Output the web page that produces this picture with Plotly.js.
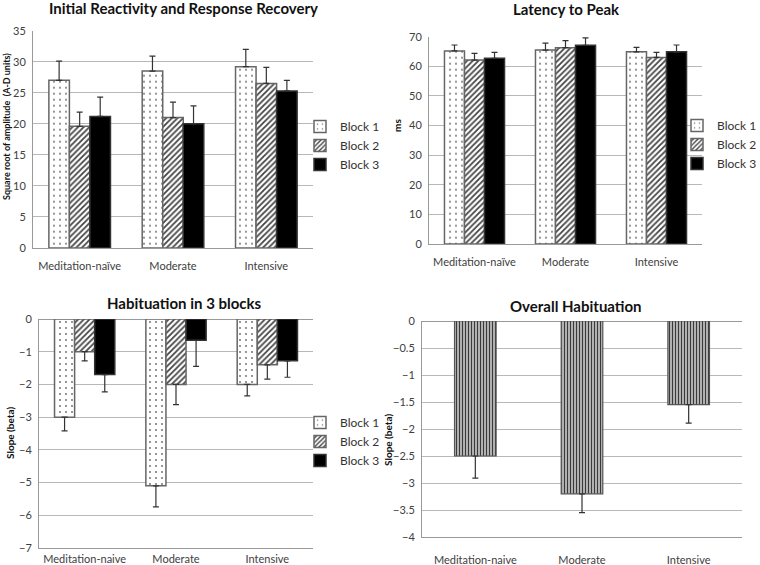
<!DOCTYPE html>
<html><head><meta charset="utf-8">
<script src="https://cdn.plot.ly/plotly-3.0.1.min.js"></script>
<style>body{margin:0;padding:0;background:#fff}#chart{width:760px;height:565px}</style>
</head><body><div id="chart"></div>
<script>
// ---- data ----
const groupsA = ["Meditation-naïve", "Moderate", "Intensive"];
const groupsB = ["Meditation-naive", "Moderate", "Intensive"];
const seriesNames = ["Block 1", "Block 2", "Block 3"];

// Initial Reactivity and Response Recovery
const react1 = [27.0, 28.5, 29.2], reactErr1 = [3.1, 2.4, 2.8];
const react2 = [19.6, 21.0, 26.5], reactErr2 = [2.3, 2.5, 2.6];
const react3 = [21.2, 20.0, 25.3], reactErr3 = [3.1, 2.9, 1.7];

// Latency to Peak (ms)
const lat1 = [65.2, 65.5, 64.9], latErr1 = [2.0, 2.3, 1.5];
const lat2 = [62.1, 66.3, 63.0], latErr2 = [2.3, 2.4, 1.7];
const lat3 = [62.7, 67.1, 64.9], latErr3 = [2.0, 2.5, 2.3];

// Habituation in 3 blocks (slope)
const hab1 = [-3.0, -5.1, -2.0], habErr1 = [0.42, 0.64, 0.35];
const hab2 = [-1.0, -2.0, -1.4], habErr2 = [0.28, 0.62, 0.44];
const hab3 = [-1.7, -0.65, -1.28], habErr3 = [0.53, 0.80, 0.50];

// Overall Habituation (slope)
const overall = [-2.5, -3.2, -1.55], overallErr = [0.41, 0.35, 0.34];

// ---- styles ----
const FONT = "Lato, 'Open Sans', sans-serif";
const styles = [
  {color: "#ffffff", line: {color: "#666", width: 1.5}, pattern: {shape: ".", fgcolor: "#666", bgcolor: "#ffffff", size: 6, solidity: 0.07}},
  {color: "#ffffff", line: {color: "#666", width: 1.5}, pattern: {shape: "/", fgcolor: "#444", bgcolor: "#ffffff", size: 4, solidity: 0.45}},
  {color: "#000000", line: {color: "#333", width: 1.5}}
];
const zeros = [0, 0, 0];

function bar(x, y, err, i, xa, ya, legend, showlegend, negative) {
  return {
    type: "bar", x: x, y: y, name: seriesNames[i], xaxis: xa, yaxis: ya,
    legend: legend, showlegend: showlegend,
    marker: styles[i],
    error_y: {type: "data", symmetric: false,
      array: negative ? zeros : err, arrayminus: negative ? err : zeros,
      color: "#333", thickness: 1.2, width: 3},
    hoverinfo: "none"
  };
}

const traces = [
  bar(groupsA, react1, reactErr1, 0, "x", "y", "legend", true, false),
  bar(groupsA, react2, reactErr2, 1, "x", "y", "legend", true, false),
  bar(groupsA, react3, reactErr3, 2, "x", "y", "legend", true, false),
  bar(groupsA, lat1, latErr1, 0, "x2", "y2", "legend2", true, false),
  bar(groupsA, lat2, latErr2, 1, "x2", "y2", "legend2", true, false),
  bar(groupsA, lat3, latErr3, 2, "x2", "y2", "legend2", true, false),
  bar(groupsB, hab1, habErr1, 0, "x3", "y3", "legend3", true, true),
  bar(groupsB, hab2, habErr2, 1, "x3", "y3", "legend3", true, true),
  bar(groupsB, hab3, habErr3, 2, "x3", "y3", "legend3", true, true),
  {type: "bar", x: groupsB, y: overall, name: "Overall", xaxis: "x4", yaxis: "y4",
   showlegend: false, width: 0.39,
   marker: {color: "#ffffff", line: {color: "#555", width: 1.2},
     pattern: {shape: "|", fgcolor: "#3a3a3a", bgcolor: "#ffffff", size: 3, solidity: 0.6}},
   error_y: {type: "data", symmetric: false, array: zeros, arrayminus: overallErr,
     color: "#333", thickness: 1.2, width: 3},
   hoverinfo: "none"}
];

const W = 760, H = 565;
const px = (a, b) => [a / W, b / W];
const py = (top, bottom) => [1 - bottom / H, 1 - top / H];

const tickFont = {family: FONT, size: 11, color: "#404040"};
function xax(domain, anchor, standoff) {
  return {domain: domain, anchor: anchor, showline: true, linecolor: "#999", linewidth: 1,
    showgrid: false, ticks: "outside", ticklen: standoff, tickcolor: "rgba(0,0,0,0)",
    tickfont: tickFont, fixedrange: true};
}
function yax(domain, anchor, range, dtick) {
  return {domain: domain, anchor: anchor, range: range, dtick: dtick, tick0: 0,
    showline: true, linecolor: "#999", linewidth: 1,
    showgrid: true, gridcolor: "#b8b8b8", gridwidth: 1,
    zeroline: true, zerolinecolor: "#999", zerolinewidth: 1,
    ticks: "outside", ticklen: 4, tickcolor: "rgba(0,0,0,0)",
    tickfont: tickFont, fixedrange: true};
}

const legendBase = {font: {family: FONT, size: 12, color: "#333"}, bgcolor: "rgba(0,0,0,0)",
  xanchor: "left", yanchor: "top", tracegroupgap: 0, itemwidth: 30, traceorder: "normal"};

function title(text, x, y) {
  return {text: "<b>" + text + "</b>", x: x / W, y: 1 - y / H, xref: "paper", yref: "paper",
    xanchor: "center", yanchor: "middle", showarrow: false,
    font: {family: FONT, size: 15, color: "#111"}};
}
function ytitle(text, x, y, size) {
  return {text: "<b>" + text + "</b>", x: x / W, y: 1 - y / H, xref: "paper", yref: "paper",
    xanchor: "center", yanchor: "middle", showarrow: false, textangle: -90,
    font: {family: FONT, size: size, color: "#111"}};
}

const layout = {
  width: W, height: H, margin: {l: 0, r: 0, t: 0, b: 0, autoexpand: false},
  paper_bgcolor: "#fff", plot_bgcolor: "#fff",
  barmode: "group", bargap: 0.34, bargroupgap: 0,
  font: {family: FONT},
  xaxis: xax(px(33, 313), "y", 8),
  yaxis: yax(py(30.7, 248), "x", [0, 35], 5),
  xaxis2: xax(px(429, 702), "y2", 8),
  yaxis2: yax(py(36.7, 244), "x2", [0, 70], 10),
  xaxis3: xax(px(39, 313), "y3", 1),
  yaxis3: yax(py(319, 548), "x3", [-7, 0], 1),
  xaxis4: xax(px(422, 742), "y4", 13),
  yaxis4: yax(py(321, 537), "x4", [-4, 0], 0.5),
  legend: Object.assign({}, legendBase, {x: 300 / W, y: 1 - 112 / H}),
  legend2: Object.assign({}, legendBase, {x: 677 / W, y: 1 - 111 / H}),
  legend3: Object.assign({}, legendBase, {x: 300 / W, y: 1 - 408 / H}),
  annotations: [
    title("Initial Reactivity and Response Recovery", 183, 8),
    title("Latency to Peak", 566, 9),
    title("Habituation in 3 blocks", 184, 303),
    title("Overall Habituation", 576, 306),
    ytitle("Square root of amplitude  (A-D units)", 6, 127, 9),
    ytitle("ms", 397, 126, 10),
    ytitle("Slope (beta)", 10, 433, 10),
    ytitle("Slope (beta)", 388, 440, 10)
  ]
};

Plotly.newPlot("chart", traces, layout, {displayModeBar: false, staticPlot: true});
</script></body></html>
